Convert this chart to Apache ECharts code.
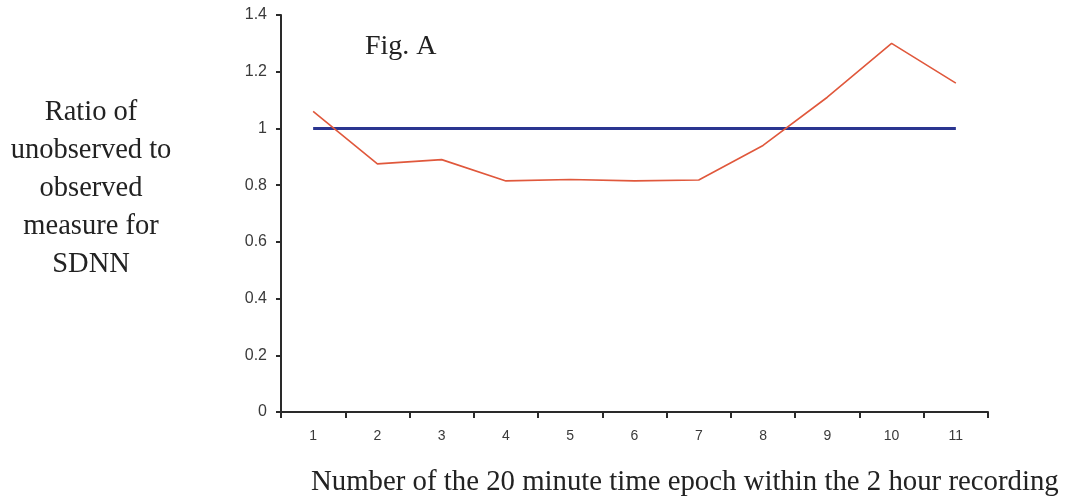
<!DOCTYPE html>
<html>
<head>
<meta charset="utf-8">
<script src="https://cdn.jsdelivr.net/npm/echarts@6/dist/echarts.min.js"></script>
<style>
  html, body { margin: 0; padding: 0; background: #fff; }
  #chart { width: 1065px; height: 502px; }
</style>
</head>
<body>
<div id="chart"></div>
<script>
// 20-minute epochs within the 2 hour recording
const epochs = ['1', '2', '3', '4', '5', '6', '7', '8', '9', '10', '11'];
// Ratio of unobserved to observed SDNN per epoch
const sdnnRatio = [1.06, 0.875, 0.89, 0.815, 0.82, 0.815, 0.818, 0.94, 1.11, 1.30, 1.16];
// Reference line: ratio of 1 (no difference)
const unityLine = [1, 1, 1, 1, 1, 1, 1, 1, 1, 1, 1];

const serif = '"Liberation Serif", "Times New Roman", serif';
const sans = '"Liberation Sans", Arial, sans-serif';

const chart = echarts.init(document.getElementById('chart'), null, { renderer: 'canvas' });

chart.setOption({
  backgroundColor: '#ffffff',
  animation: false,
  grid: { left: 281, right: 77, top: 15, bottom: 90, containLabel: false },
  xAxis: {
    type: 'category',
    data: epochs,
    boundaryGap: true,
    axisLine: { show: true, lineStyle: { color: '#2a2a2a', width: 2 } },
    axisTick: { show: true, inside: false, length: 6, alignWithLabel: false, lineStyle: { color: '#2a2a2a', width: 2 } },
    axisLabel: { color: '#3a3a3a', fontFamily: sans, fontSize: 14, margin: 17 },
    splitLine: { show: false }
  },
  yAxis: {
    type: 'value',
    min: 0,
    max: 1.4,
    interval: 0.2,
    axisLine: { show: true, lineStyle: { color: '#2a2a2a', width: 2 } },
    axisTick: { show: true, inside: false, length: 5, lineStyle: { color: '#2a2a2a', width: 2 } },
    axisLabel: { color: '#3a3a3a', fontFamily: sans, fontSize: 16, margin: 14 },
    splitLine: { show: false }
  },
  series: [
    {
      name: 'Unity',
      type: 'line',
      data: unityLine,
      symbol: 'none',
      lineStyle: { color: '#2a3590', width: 3 },
      z: 2
    },
    {
      name: 'SDNN ratio',
      type: 'line',
      data: sdnnRatio,
      symbol: 'none',
      lineStyle: { color: '#e0583c', width: 1.6 },
      z: 3
    }
  ],
  graphic: [
    {
      type: 'text',
      left: 365,
      top: 33,
      style: { text: 'Fig. A', font: '28px ' + serif, fill: '#222' }
    },
    {
      type: 'text',
      x: 91,
      y: 94,
      style: {
        text: 'Ratio of\nunobserved to\nobserved\nmeasure for\nSDNN',
        font: '28.5px ' + serif,
        fill: '#222',
        align: 'center',
        verticalAlign: 'top',
        lineHeight: 37.8
      }
    },
    {
      type: 'text',
      left: 311,
      top: 468,
      style: {
        text: 'Number of the 20 minute time epoch within the 2 hour recording',
        font: '28.8px ' + serif,
        fill: '#222'
      }
    }
  ]
});
</script>
</body>
</html>
